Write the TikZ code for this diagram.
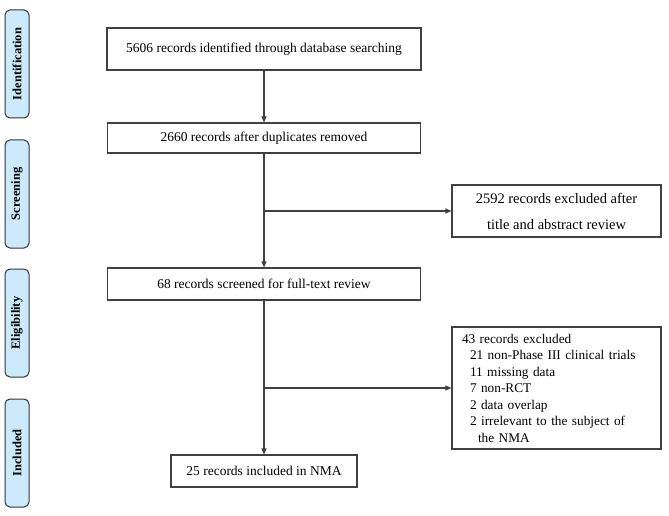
\documentclass[tikz,border=0pt]{standalone}
\usepackage{fontspec}
\setmainfont{Liberation Serif}
\usetikzlibrary{arrows.meta,positioning,calc}
\definecolor{phaseblue}{RGB}{205,233,252}

\begin{document}
\begin{tikzpicture}
[x=1pt, y=1pt,
phase/.style={rectangle, rounded corners=5pt, draw=black!80, line width=1pt, fill=phaseblue, minimum width=108pt, minimum height=24pt, rotate=90, font=\fontsize{12.5}{15}\selectfont\bfseries},
stage/.style={rectangle, draw=black!75, line width=1.1pt, minimum height=30pt, font=\fontsize{13.5}{16}\selectfont},
excl/.style={rectangle, draw=black!75, line width=1.1pt, minimum width=209pt},
>/.tip={Triangle[length=6pt, width=5pt]}]

	\useasboundingbox (0,0) rectangle (669,-516);

	\node (idf) at (17,-64) [phase]{Identification};
	\node (scr) at (17,-194) [phase]{Screening};
	\node (elg) at (17,-323) [phase]{Eligibility};
	\node (inc) at (17,-453) [phase]{Included};

	\node (ident) at (264,-49) [stage, minimum width=314pt, minimum height=42pt]{5606 records identified through database searching};
	\node (dup) at (264,-138) [stage, minimum width=313pt]{2660 records after duplicates removed};
	\node (full) at (264,-284) [stage, minimum height=32pt, minimum width=313pt]{68 records screened for full-text review};
	\node (incl) at (264,-471) [stage, minimum height=32pt, minimum width=186pt]{25 records included in NMA};

	\node (ex1) at (556.5,-211) [excl, minimum height=52pt, align=center, font=\fontsize{14.5}{26}\selectfont]{2592 records excluded after\\title and abstract review};
	\node (ex2) at (556.5,-388) [excl, minimum height=122pt, text width=189pt, align=left, font=\fontsize{13.3}{16.5}\selectfont]{43 records excluded\\
	\hspace*{8pt}21 non-Phase III clinical trials\\
	\hspace*{8pt}11 missing data\\
	\hspace*{8pt}7 non-RCT\\
	\hspace*{8pt}2 data overlap\\
	\hspace*{8pt}2 irrelevant to the subject of\\
	\hspace*{16pt}the NMA};

	\coordinate (br1) at (dup.south |- ex1.west);
	\coordinate (br2) at (full.south |- ex2.west);

	\draw[->, line width=1.1pt, black!75] (ident) -- (dup);
	\draw[->, line width=1.1pt, black!75] (dup) -- (full);
	\draw[->, line width=1.1pt, black!75] (full) -- (incl);
	\draw[->, line width=1.1pt, black!75] (br1) -- (ex1.west);
	\draw[->, line width=1.1pt, black!75] (br2) -- (ex2.west);

\end{tikzpicture}
\end{document}
